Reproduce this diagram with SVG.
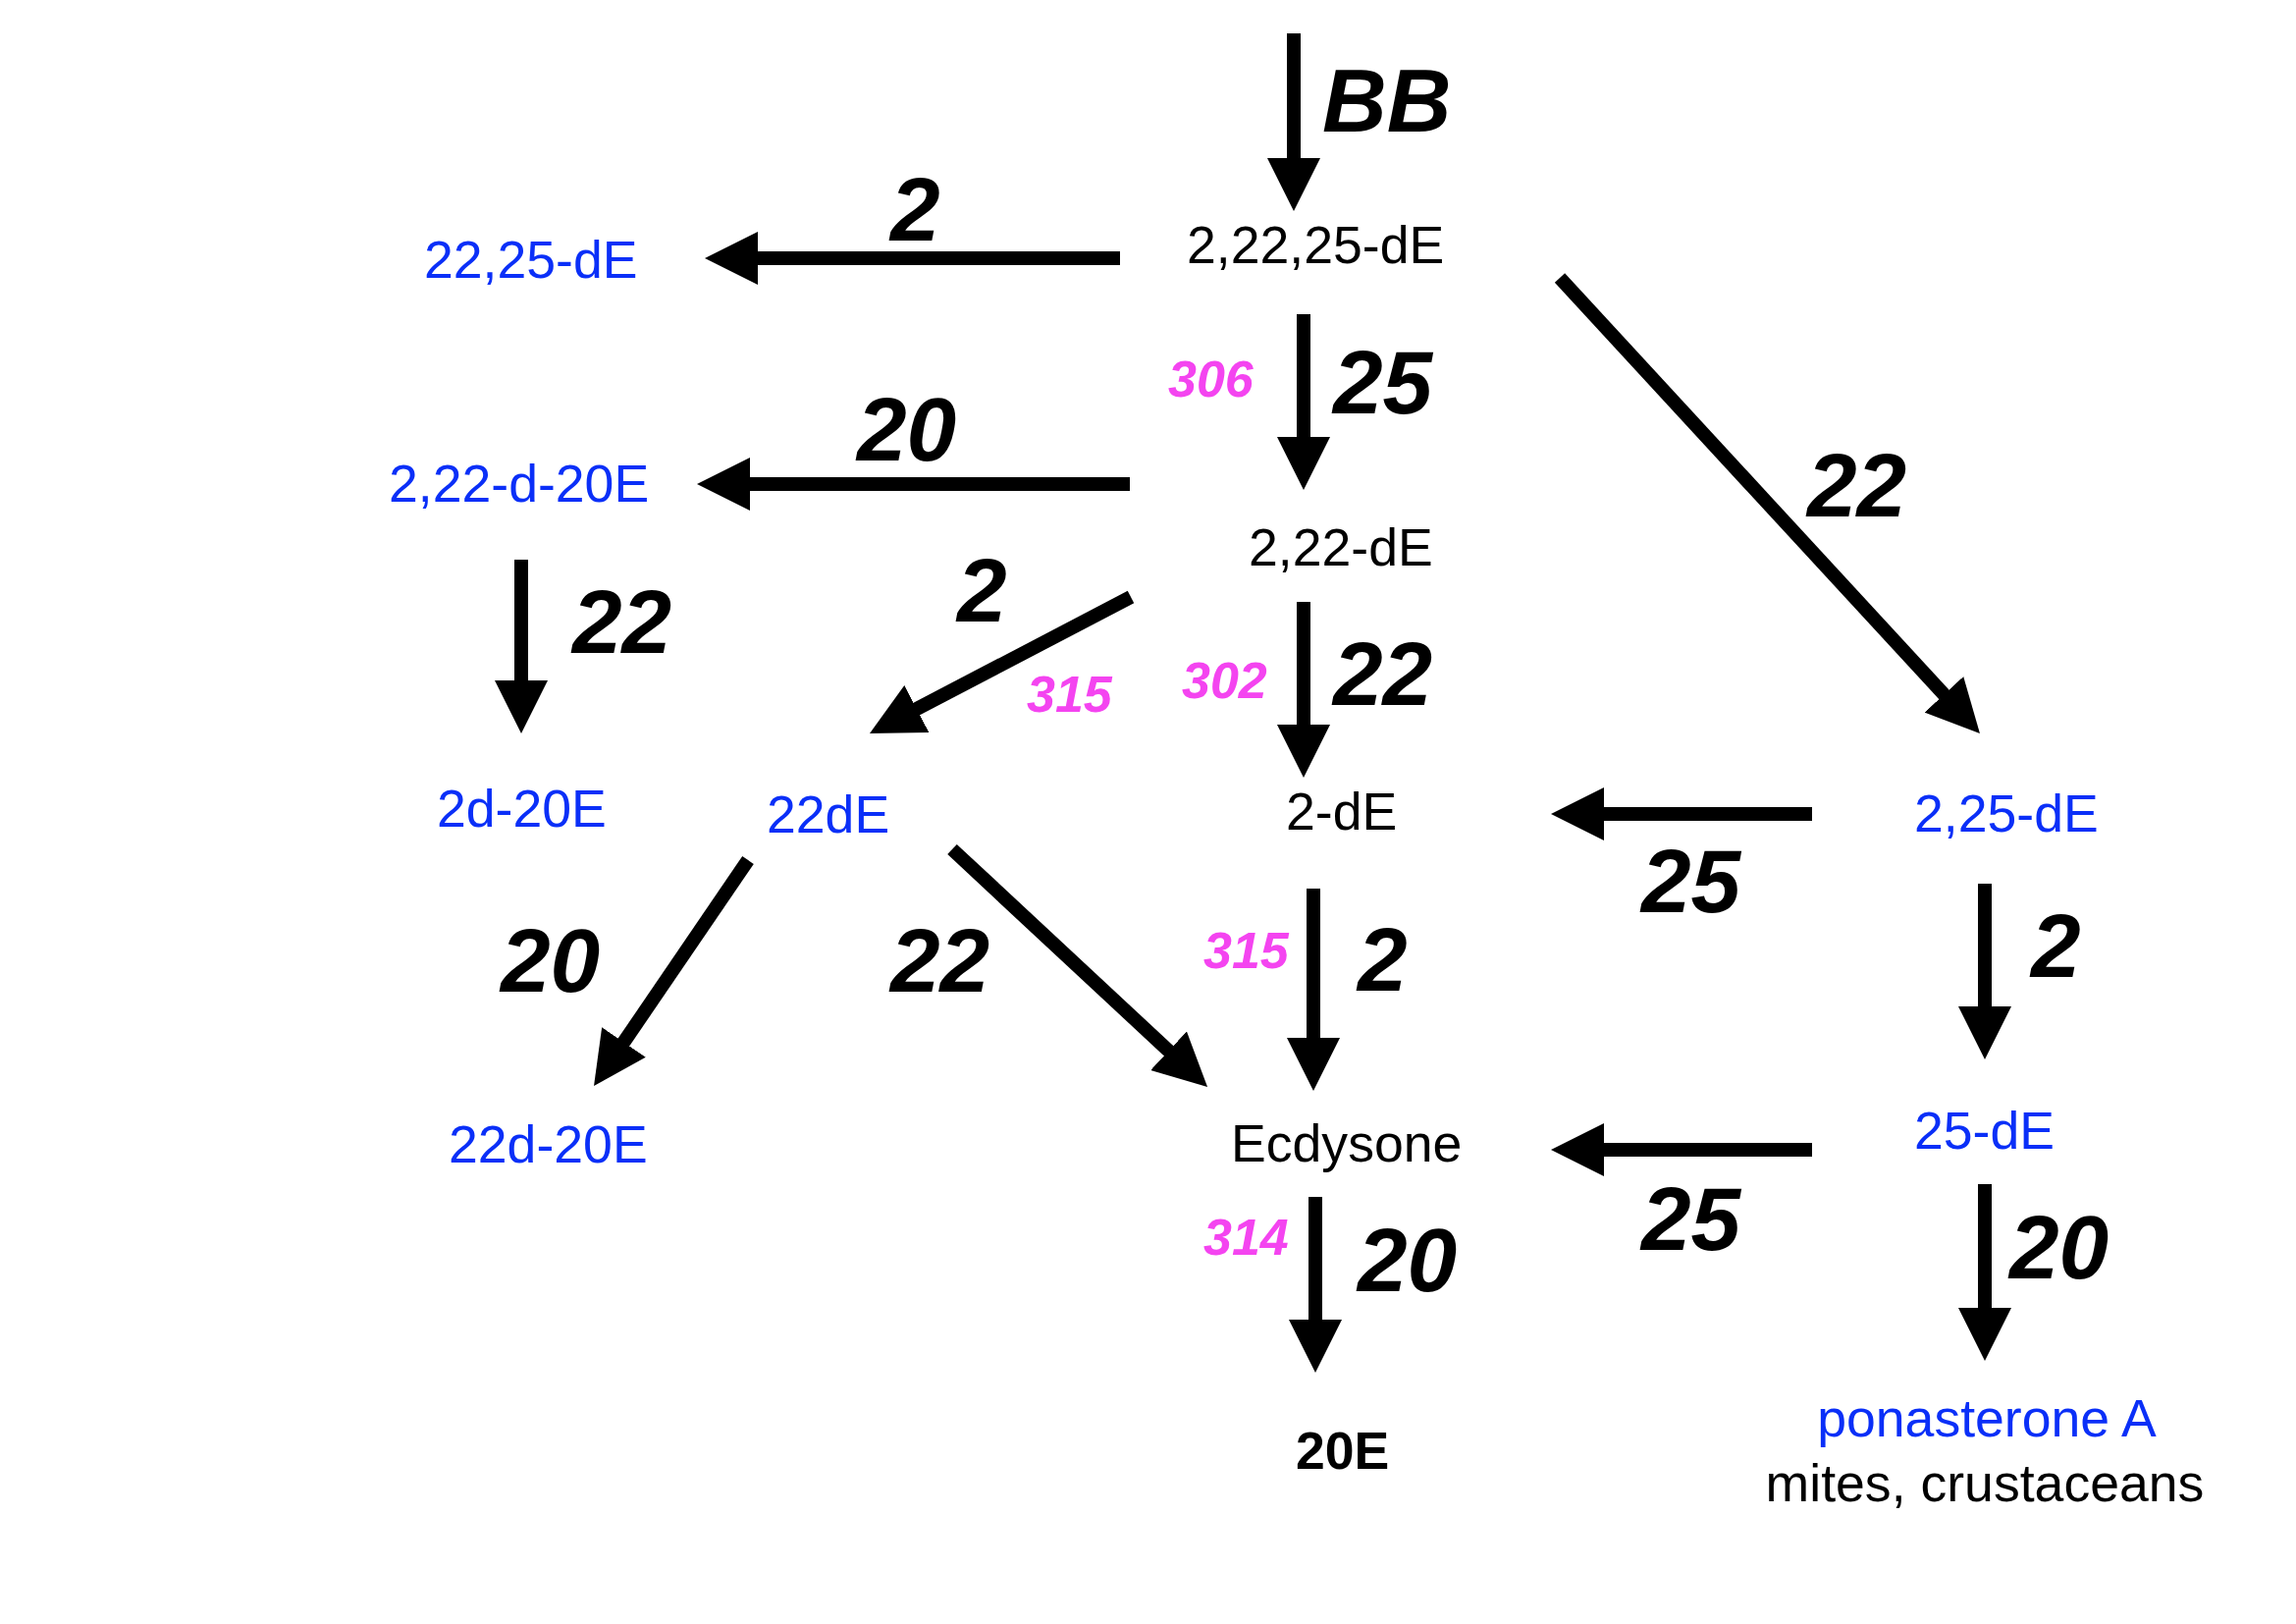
<svg xmlns="http://www.w3.org/2000/svg" width="2339" height="1654" viewBox="0 0 2339 1654">
<style>
.n{font-family:"Liberation Sans",Arial,Helvetica,sans-serif;font-size:53.6px;fill:#000}
.b{fill:#0a2ff8}
.e{font-family:"Liberation Sans",Arial,Helvetica,sans-serif;font-size:91px;font-weight:bold;font-style:italic;fill:#000}
.p{font-family:"Liberation Sans",Arial,Helvetica,sans-serif;font-size:52px;font-weight:bold;font-style:italic;fill:#f444f0}
.c line{stroke:#000;stroke-width:14;marker-end:url(#ah)}
</style>
<defs>
<marker id="ah" markerUnits="userSpaceOnUse" markerWidth="54" markerHeight="54" viewBox="0 0 54 54" refX="34" refY="27" orient="auto">
<path d="M0,0 L54,27 L0,54 z" fill="#000"/>
</marker>
</defs>
<rect width="2339" height="1654" fill="#fff"/>
<g id="connectors" class="c">
<line x1="1318" y1="34" x2="1318" y2="195"/>
<line x1="1141" y1="263" x2="738" y2="263"/>
<line x1="1328" y1="320" x2="1328" y2="479"/>
<line x1="1151" y1="493" x2="730" y2="493"/>
<line x1="531" y1="570" x2="531" y2="727"/>
<line x1="1152" y1="608" x2="903.7" y2="737.7"/>
<line x1="1328" y1="613" x2="1328" y2="772"/>
<line x1="1589" y1="283" x2="2003.4" y2="732.3"/>
<line x1="1846" y1="829" x2="1600" y2="829"/>
<line x1="1338" y1="905" x2="1338" y2="1091"/>
<line x1="2022" y1="900" x2="2022" y2="1059"/>
<line x1="762" y1="876" x2="616.3" y2="1089.5"/>
<line x1="970" y1="865" x2="1215.4" y2="1093.4"/>
<line x1="1846" y1="1171" x2="1600" y2="1171"/>
<line x1="1340" y1="1219" x2="1340" y2="1378"/>
<line x1="2022" y1="1206" x2="2022" y2="1366"/>
</g>
<g id="edge-labels">
<text class="e" x="1347" y="134">BB</text>
<text class="e" x="907" y="245">2</text>
<text class="e" x="1358" y="421">25</text>
<text class="e" x="873" y="469">20</text>
<text class="e" x="583" y="665">22</text>
<text class="e" x="975" y="633">2</text>
<text class="e" x="1841" y="526">22</text>
<text class="e" x="1358" y="718">22</text>
<text class="e" x="1672" y="929">25</text>
<text class="e" x="1383" y="1009">2</text>
<text class="e" x="2069" y="995">2</text>
<text class="e" x="510" y="1010">20</text>
<text class="e" x="907" y="1010">22</text>
<text class="e" x="1672" y="1273">25</text>
<text class="e" x="1383" y="1315">20</text>
<text class="e" x="2047" y="1302">20</text>
<text class="p" x="1190" y="404">306</text>
<text class="p" x="1046" y="725">315</text>
<text class="p" x="1204" y="711">302</text>
<text class="p" x="1226" y="986">315</text>
<text class="p" x="1226" y="1278">314</text>
</g>
<g id="n-2-22-25-dE"><text class="n" x="1209" y="268">2,22,25-dE</text></g>
<g id="n-22-25-dE"><text class="n b" x="432" y="283">22,25-dE</text></g>
<g id="n-2-22-d-20E"><text class="n b" x="396" y="511">2,22-d-20E</text></g>
<g id="n-2-22-dE"><text class="n" x="1272" y="576">2,22-dE</text></g>
<g id="n-2d-20E"><text class="n b" x="445" y="842">2d-20E</text></g>
<g id="n-22dE"><text class="n b" x="781" y="848">22dE</text></g>
<g id="n-2-dE"><text class="n" x="1310" y="845">2-dE</text></g>
<g id="n-2-25-dE"><text class="n b" x="1950" y="847">2,25-dE</text></g>
<g id="n-22d-20E"><text class="n b" x="457" y="1184">22d-20E</text></g>
<g id="n-ecdysone"><text class="n" x="1254" y="1183">Ecdysone</text></g>
<g id="n-25-dE"><text class="n b" x="1950" y="1170">25-dE</text></g>
<g id="n-20E"><text class="n" x="1320" y="1496" font-weight="bold" font-size="52">20E</text></g>
<g id="n-ponasterone-A">
<text class="n b" x="2024" y="1463" text-anchor="middle">ponasterone A</text>
<text class="n" x="2022" y="1529" text-anchor="middle">mites, crustaceans</text>
</g>
</svg>
